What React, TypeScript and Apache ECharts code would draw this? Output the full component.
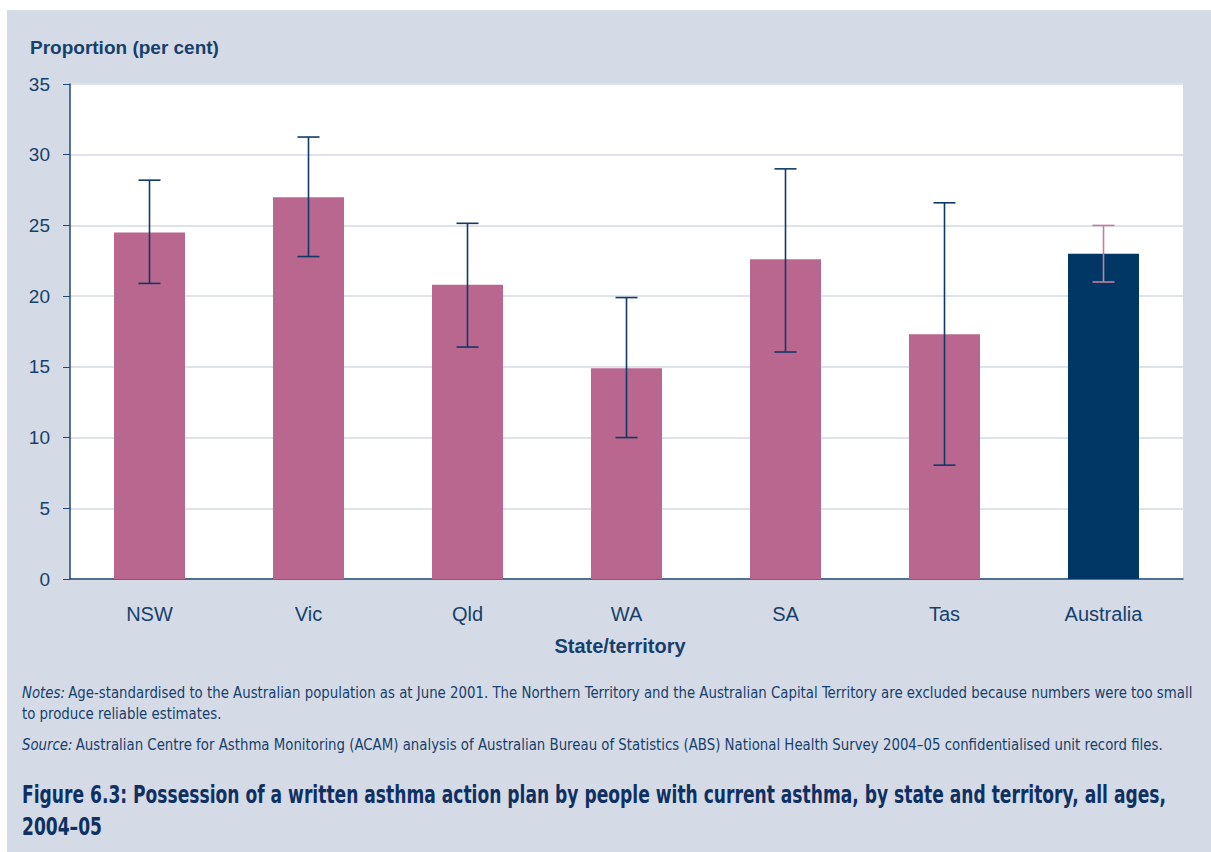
import React, { useEffect, useRef } from "react";
import * as echarts from "echarts";

const categories = ["NSW", "Vic", "Qld", "WA", "SA", "Tas", "Australia"];
const values = [24.5, 27.0, 20.8, 14.9, 22.6, 17.3, 23.0];
const lowerCI = [20.9, 22.8, 16.4, 10.0, 16.05, 8.05, 21.0];
const upperCI = [28.2, 31.25, 25.15, 19.9, 29.0, 26.6, 25.0];
const yTicks = { min: 0, max: 35, interval: 5 };

const PINK = "#b9678f";
const NAVY = "#003764";
const TEXT = "#173f6b";
const BG = "#d5dbe6";
const NARROW = "'Liberation Sans Narrow', 'DejaVu Sans Condensed', sans-serif";

export default function App() {
  const ref = useRef<HTMLDivElement>(null);
  useEffect(() => {
    if (!ref.current) return;
    const chart = echarts.init(ref.current, null, { renderer: "svg" });
    const last = categories.length - 1;
    chart.setOption({
      animation: false,
      backgroundColor: "#ffffff",
      graphic: [
        { type: "rect", z: -10, shape: { x: 7, y: 10, width: 1204, height: 842 }, style: { fill: BG } },
        { type: "rect", z: -9, shape: { x: 70, y: 84, width: 1113, height: 495 }, style: { fill: "#ffffff" } },
        {
          type: "text", x: 30, y: 38,
          style: { text: "Proportion (per cent)", fill: TEXT, font: "bold 19px 'Liberation Sans', Arial, sans-serif" },
        },
        {
          type: "text", x: 620, y: 636,
          style: { text: "State/territory", fill: TEXT, textAlign: "center", font: "bold 20px 'Liberation Sans', Arial, sans-serif" },
        },
        {
          type: "text", x: 22, y: 682, scaleX: 0.956,
          style: {
            rich: {
              i: { fontStyle: "italic", fontFamily: NARROW, fontSize: 15.5, fill: TEXT },
              n: { fontFamily: NARROW, fontSize: 15.5, fill: TEXT },
            },
            text: "{i|Notes:} {n|Age-standardised to the Australian population as at June 2001. The Northern Territory and the Australian Capital Territory are excluded because numbers were too small}\n{n|to produce reliable estimates.}",
            lineHeight: 21,
          },
        },
        {
          type: "text", x: 22, y: 737, scaleX: 0.956,
          style: {
            rich: {
              i: { fontStyle: "italic", fontFamily: NARROW, fontSize: 15.5, fill: TEXT },
              n: { fontFamily: NARROW, fontSize: 15.5, fill: TEXT },
            },
            text: "{i|Source:} {n|Australian Centre for Asthma Monitoring (ACAM) analysis of Australian Bureau of Statistics (ABS) National Health Survey 2004–05 confidentialised unit record files.}",
          },
        },
        {
          type: "text", x: 22, y: 779, scaleX: 0.793,
          style: {
            text: "Figure 6.3: Possession of a written asthma action plan by people with current asthma, by state and territory, all ages,\n2004–05",
            fill: "#0f3060",
            font: "bold 24px " + NARROW,
            lineHeight: 32,
          },
        },
      ],
      grid: { left: 70, top: 84, width: 1113, height: 495, containLabel: false },
      xAxis: {
        type: "category",
        data: categories,
        axisLine: { show: true, lineStyle: { color: "#1f4a75", width: 1.5 } },
        axisTick: { show: false },
        axisLabel: { color: TEXT, fontSize: 20, fontFamily: "'Liberation Sans', Arial, sans-serif", margin: 25 },
      },
      yAxis: {
        type: "value",
        min: yTicks.min,
        max: yTicks.max,
        interval: yTicks.interval,
        axisLine: { show: true, lineStyle: { color: "#1f4a75", width: 1.5 } },
        axisTick: { show: true, length: 7, lineStyle: { color: "#1f4a75" } },
        axisLabel: { color: TEXT, fontSize: 19, fontFamily: "'Liberation Sans', Arial, sans-serif", margin: 20 },
        splitLine: { show: true, lineStyle: { color: "#dde2eb", width: 2 } },
      },
      series: [
        {
          type: "bar",
          data: values.map((v, i) => ({ value: v, itemStyle: { color: i === last ? NAVY : PINK } })),
          barWidth: 71,
        },
        {
          type: "custom",
          data: categories.map((_, i) => [i, lowerCI[i], upperCI[i]]),
          z: 5,
          renderItem: (params: any, api: any) => {
            const idx = api.value(0);
            const lo = api.coord([idx, api.value(1)]);
            const hi = api.coord([idx, api.value(2)]);
            const half = 11;
            const color = idx === last ? "#c27fa3" : "#0f3a68";
            const style = { stroke: color, lineWidth: 1.6 };
            return {
              type: "group",
              children: [
                { type: "line", shape: { x1: lo[0], y1: lo[1], x2: hi[0], y2: hi[1] }, style },
                { type: "line", shape: { x1: lo[0] - half, y1: lo[1], x2: lo[0] + half, y2: lo[1] }, style },
                { type: "line", shape: { x1: hi[0] - half, y1: hi[1], x2: hi[0] + half, y2: hi[1] }, style },
              ],
            };
          },
        },
      ],
    });
    return () => chart.dispose();
  }, []);
  return <div ref={ref} style={{ position: "absolute", left: 0, top: 0, width: 1211, height: 852 }} />;
}
